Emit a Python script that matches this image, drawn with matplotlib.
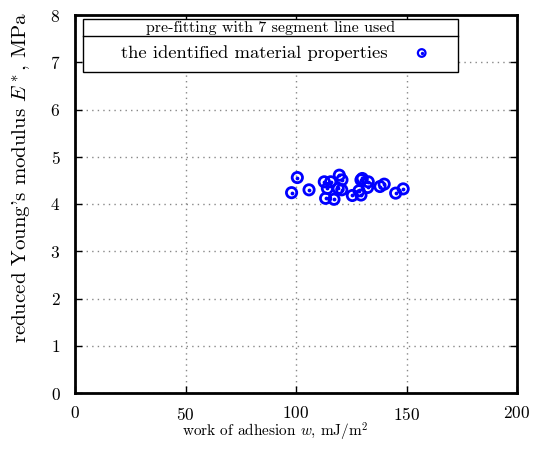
import numpy as np
import matplotlib
matplotlib.use("Agg")
import matplotlib.pyplot as plt
from matplotlib.patches import Rectangle

plt.rcParams['font.family'] = ['cmr10', 'DejaVu Serif']
plt.rcParams['mathtext.fontset'] = 'cm'
plt.rcParams['axes.formatter.use_mathtext'] = True

# work of adhesion w (mJ/m^2) and reduced modulus E* (MPa)
w = [98.0, 100.6, 105.9, 112.8, 115.7, 114.2, 113.4, 117.2, 119.6, 120.8,
     119.1, 120.7, 125.5, 128.5, 129.4, 129.4, 130.0, 132.7, 132.4, 138.0,
     139.9, 145.1, 148.5]
E = [4.24, 4.56, 4.30, 4.47, 4.47, 4.33, 4.12, 4.10, 4.61, 4.51,
     4.33, 4.30, 4.18, 4.28, 4.19, 4.51, 4.54, 4.47, 4.35, 4.37,
     4.42, 4.23, 4.32]

xticks = [0, 50, 100, 150, 200]
yticks = [0, 1, 2, 3, 4, 5, 6, 7, 8]

fig = plt.figure(figsize=(5.37, 4.53), dpi=100)
ax = fig.add_axes([75/537, 1 - 393/453, 442/537, 378/453])

ax.scatter(w, E, s=55, facecolors='none', edgecolors='#0000ff', linewidths=2.0, zorder=3)
ax.scatter(w, E, s=3, color='#0000ff', zorder=4)

ax.set_xlim(0, 200)
ax.set_ylim(0, 8)
ax.set_xticks(xticks)
ax.set_yticks(yticks)
ax.grid(True, color='#888888', linestyle=(0, (1, 3)), linewidth=1)
ax.tick_params(direction='in', top=True, right=True, labelsize=12.5, length=5, width=1)
ax.tick_params(axis='x', pad=9)
ax.tick_params(axis='y', pad=10.5)
for s in ax.spines.values():
    s.set_linewidth(2)

ax.set_xlabel(r"work of adhesion $w$, mJ/m$^2$", fontsize=11)
ax.set_ylabel(r"reduced Young's modulus $E^*$, MPa", fontsize=15)
ax.xaxis.set_label_coords((275 - 75) / 442, (393 - 421) / 378)
ax.yaxis.set_label_coords((33 - 75) / 442, (393 - 177.5) / 378)

# legend box with title
x0, x1 = (82.7 - 75) / 442, (457.7 - 75) / 442
y0, y1, ym = (393 - 71.7) / 378, (393 - 19.3) / 378, (393 - 36) / 378
ax.add_patch(Rectangle((x0, y0), x1 - x0, y1 - y0, transform=ax.transAxes,
                       facecolor='white', edgecolor='black', lw=1, zorder=5))
ax.plot([x0, x1], [ym, ym], transform=ax.transAxes, color='black', lw=1, zorder=6)
ax.text((x0 + x1) / 2, (ym + y1) / 2, "pre-fitting with 7 segment line used",
        transform=ax.transAxes, ha='center', va='center', fontsize=11.5, zorder=6)
ax.text((388 - 75) / 442, (393 - 53) / 378, "the identified material properties",
        transform=ax.transAxes, ha='right', va='center', fontsize=13.4, zorder=6)
ax.scatter([(421.7 - 75) / 442], [(393 - 53) / 378], s=30, facecolors='none',
           edgecolors='#0000ff', linewidths=1.6, transform=ax.transAxes, zorder=7, clip_on=False)
ax.scatter([(421.7 - 75) / 442], [(393 - 53) / 378], s=2, color='#0000ff',
           transform=ax.transAxes, zorder=8, clip_on=False)

fig.savefig("out.png", dpi=100)
